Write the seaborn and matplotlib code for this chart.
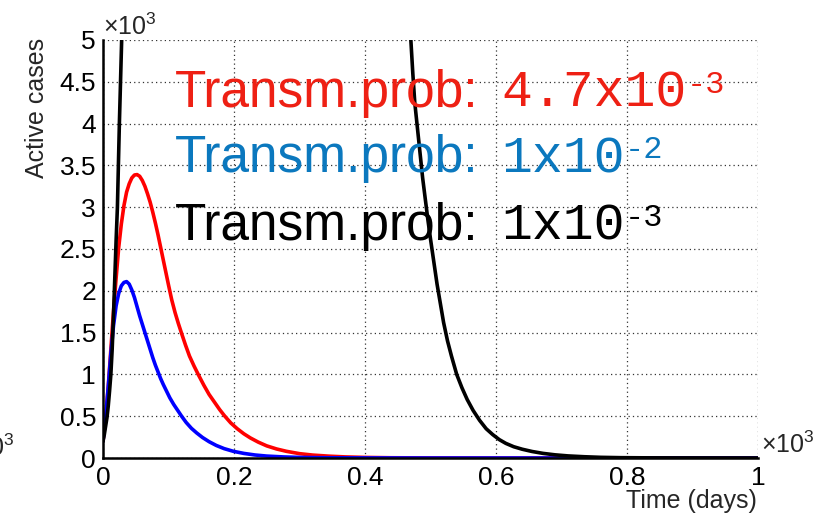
import matplotlib
matplotlib.use("Agg")
import matplotlib.pyplot as plt
from matplotlib.ticker import MultipleLocator, FuncFormatter
import seaborn as sns
import pandas as pd

# ---------------- data (time in days, active cases) ----------------
red_t = [0, 4, 8, 12, 16, 20, 24, 28, 32, 36, 40, 44, 48, 52, 56, 60, 64, 68, 72, 76,
         80, 84, 88, 92, 96, 100, 105, 110, 115, 120, 126, 132, 139, 146, 154, 162,
         170, 178, 186, 195, 205, 215, 225, 237, 250, 265, 280, 300, 320, 345, 370,
         400, 440, 500, 600, 1000]
red_y = [200, 480, 850, 1300, 1750, 2150, 2520, 2800, 3020, 3180, 3280, 3350, 3385,
         3390, 3370, 3320, 3250, 3160, 3060, 2940, 2810, 2670, 2520, 2370, 2220, 2070,
         1890, 1740, 1610, 1490, 1350, 1220, 1100, 990, 870, 760, 670, 580, 500, 420,
         350, 290, 240, 190, 145, 108, 80, 52, 35, 22, 13, 7, 3, 1, 0, 0]

blue_t = [0, 4, 8, 12, 16, 20, 24, 28, 32, 36, 40, 44, 48, 52, 56, 60, 64, 68, 72, 76,
          80, 84, 88, 92, 97, 102, 108, 114, 120, 127, 135, 143, 152, 162, 173, 185,
          199, 215, 232, 250, 275, 300, 340, 400, 500, 1000]
blue_y = [200, 480, 850, 1250, 1580, 1820, 1970, 2060, 2100, 2110, 2080, 2010, 1920,
          1810, 1700, 1600, 1500, 1400, 1300, 1200, 1110, 1030, 950, 880, 800, 720,
          640, 570, 500, 425, 355, 300, 245, 195, 150, 112, 80, 55, 36, 23, 13, 7, 3,
          1, 0, 0]

black_t = [0, 2, 4, 6, 8, 10, 12, 14, 16, 18, 20, 22, 25, 28.5, 31, 466, 470, 473, 476,
           480, 484, 488, 492, 496, 500, 505, 510, 515, 520, 526, 532, 540, 548, 556,
           565, 575, 585, 595, 605, 615, 627, 640, 655, 672, 690, 710, 735, 760, 790,
           830, 880, 1000]
black_y = [200, 280, 380, 480, 620, 800, 1000, 1300, 1700, 2150, 2600, 3000, 4000,
           5000, 6000, 5600, 5000, 4600, 4250, 3950, 3650, 3350, 3100, 2850, 2620, 2350,
           2080, 1850, 1620, 1400, 1220, 1000, 840, 700, 570, 450, 350, 280, 220, 175,
           135, 105, 78, 55, 38, 25, 15, 8, 4, 2, 1, 0]

series_names = ["Transm.prob: 4.7x10^-3", "Transm.prob: 1x10^-2", "Transm.prob: 1x10^-3"]
line_colors = ["#FF0000", "#0000FF", "#000000"]
label_prefix = "Transm.prob:"
label_mantissa = ["4.7x10", "1x10", "1x10"]
label_exponent = ["-3", "-2", "-3"]
label_colors = ["#EE2014", "#0B78BE", "#000000"]

x_label = "Time (days)"
y_label = "Active cases"

# ---------------- build long table ----------------
frames = []
for name, t, y in zip(series_names, [red_t, blue_t, black_t], [red_y, blue_y, black_y]):
    frames.append(pd.DataFrame({"t": [v / 1000 for v in t],
                                "y": [v / 1000 for v in y],
                                "series": name}))
df = pd.concat(frames, ignore_index=True)

sns.set_style("white")
plt.rcParams["font.family"] = ["Liberation Sans", "DejaVu Sans"]
plt.rcParams["mathtext.fontset"] = "custom"
plt.rcParams["mathtext.rm"] = "Liberation Sans"
plt.rcParams["mathtext.it"] = "Liberation Sans"

fig = plt.figure(figsize=(8.4, 5.19), dpi=100)
ax = fig.add_axes([103 / 840, 61 / 519, 655 / 840, 418 / 519])

sns.lineplot(data=df, x="t", y="y", hue="series", hue_order=series_names,
             palette=line_colors, estimator=None, sort=False, linewidth=2.6,
             legend=False, ax=ax)

ax.set_xlim(0, 1)
ax.set_ylim(0, 5)

for s in ["top", "right"]:
    ax.spines[s].set_visible(False)
for s in ["left", "bottom"]:
    ax.spines[s].set_linewidth(1.8)
    ax.spines[s].set_color("black")

ax.xaxis.set_major_locator(MultipleLocator(0.2))
ax.xaxis.set_minor_locator(MultipleLocator(0.05))
ax.yaxis.set_major_locator(MultipleLocator(0.5))
ax.yaxis.set_minor_locator(MultipleLocator(0.1))
fmt = FuncFormatter(lambda v, p: "%g" % round(v, 3))
ax.xaxis.set_major_formatter(fmt)
ax.yaxis.set_major_formatter(fmt)

ax.tick_params(axis="both", which="both", direction="in", colors="black",
               labelsize=19, width=1.1)
ax.tick_params(axis="x", which="major", length=7, pad=6)
ax.tick_params(axis="x", which="minor", length=4)
ax.tick_params(axis="y", which="major", length=9, pad=5)
ax.tick_params(axis="y", which="minor", length=6)

ax.grid(True, which="major", linestyle=(0, (1, 2.5)), color="#333333", linewidth=0.9)
ax.set_axisbelow(True)

ax.set_ylabel(y_label, fontsize=18, loc="top")
ax.yaxis.set_label_coords(-0.082, 1.005)
ax.set_xlabel(x_label, fontsize=18, loc="right")
ax.xaxis.set_label_coords(0.9985, -0.074)

# exponent markers
ax.text(0.0, 1.0, r"$\times10^{3}$", transform=ax.transAxes, fontsize=18,
        ha="left", va="bottom")
ax.text(1.005, 0.0, r"$\times10^{3}$", transform=ax.transAxes, fontsize=18,
        ha="left", va="bottom")
fig.text(15 / 840, 61 / 519 - 0.006, r"$\times10^{3}$", fontsize=18, ha="right", va="bottom")

# labels
y_positions = [4.2, 3.42, 2.61]
for yp, mant, expo, col in zip(y_positions, label_mantissa, label_exponent, label_colors):
    ax.text(0.11, yp, label_prefix, color=col, fontsize=37, ha="left",
            va="baseline", family=["Liberation Sans", "DejaVu Sans"])
    m = ax.text(0.608, yp, mant, color=col, fontsize=37, ha="left",
                va="baseline", family=["Liberation Mono", "DejaVu Sans Mono"])
    ax.annotate(expo, xy=(1, 1.0), xycoords=m, xytext=(0, -1),
                textcoords="offset points", color=col, fontsize=23,
                ha="left", va="top", family=["Liberation Mono", "DejaVu Sans Mono"])

fig.savefig("out.png", dpi=100)
